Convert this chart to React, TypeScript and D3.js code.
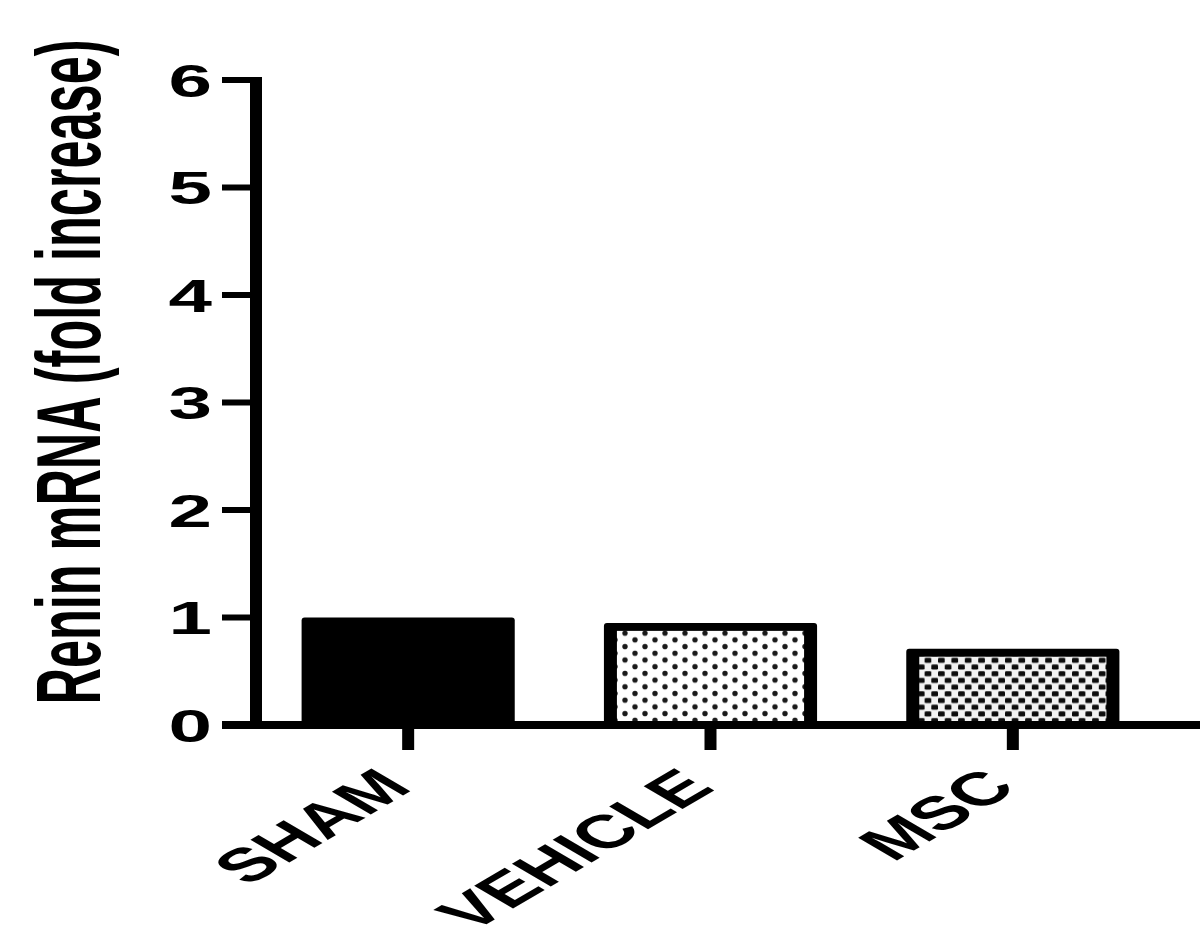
import React from "react";
import * as d3 from "d3";

// Group names, bar heights and axis ticks
const categories = ["SHAM", "VEHICLE", "MSC"];
const values = [1.0, 0.95, 0.71];
const fillKinds = ["solid", "dots", "weave"];
const yTicks = [0, 1, 2, 3, 4, 5, 6];
const yTitle = "Renin mRNA (fold increase)";

const W = 1200;
const H = 941;
// horizontal stretch applied to text glyphs (wide, heavy lettering)
const SX = 1.7;
const FONT = "'Liberation Sans', Arial, Helvetica, sans-serif";

export default function App() {
  const y = d3.scaleLinear().domain([0, 6]).range([725, 80]);
  const x = d3
    .scaleBand<string>()
    .domain(categories)
    .range([257, 1164])
    .paddingInner(0.295)
    .paddingOuter(0.1475);

  const axisX = 256;
  const y0 = y(0);
  const bw = x.bandwidth();
  const vBorder = 13; // vertical edge thickness
  const hBorder = 8; // horizontal edge thickness

  return (
    <svg
      width={W}
      height={H}
      viewBox={`0 0 ${W} ${H}`}
      style={{ position: "absolute", left: 0, top: 0, background: "#fff" }}
      fontFamily={FONT}
    >
      <defs>
        <pattern id="dots" patternUnits="userSpaceOnUse" width={20} height={13.4} x={0} y={0}>
          <rect width={20} height={13.4} fill="#fff" />
          <circle cx={5} cy={3.4} r={2.7} fill="#1a1a1a" />
          <circle cx={15} cy={10.1} r={2.7} fill="#1a1a1a" />
        </pattern>
        <pattern id="weave" patternUnits="userSpaceOnUse" width={13.4} height={13.4}>
          <rect width={13.4} height={13.4} fill="#f2f2f2" />
          <rect x={0} y={1.3} width={6.7} height={5} fill="#0d0d0d" rx={1.2} />
          <rect x={6.7} y={8} width={6.7} height={5} fill="#0d0d0d" rx={1.2} />
        </pattern>
      </defs>

      <rect width={W} height={H} fill="#fff" />

      {/* bars */}
      {categories.map((c, i) => {
        const bx = x(c)!;
        const top = y(values[i]);
        const kind = fillKinds[i];
        return (
          <g key={c}>
            <rect x={bx} y={top} width={bw} height={y0 - top} fill="#000" rx={3} />
            {kind !== "solid" && (
              <rect
                x={bx + vBorder}
                y={top + hBorder}
                width={bw - 2 * vBorder}
                height={y0 - top - hBorder}
                fill={`url(#${kind})`}
              />
            )}
          </g>
        );
      })}

      {/* y axis */}
      <rect x={axisX - 6} y={y(6) - 3} width={12} height={y0 - y(6) + 7} fill="#000" />
      {yTicks.map((t) => (
        <g key={t}>
          <rect x={222} y={y(t) - 3} width={axisX - 222} height={6} fill="#000" />
          <text
            transform={`translate(212, ${y(t)}) scale(${SX},1)`}
            textAnchor="end"
            dy="0.36em"
            fontSize={46}
            fontWeight="bold"
            fill="#000"
          >
            {t}
          </text>
        </g>
      ))}

      {/* x axis */}
      <rect x={222} y={y0 - 4} width={W - 222} height={8} fill="#000" />
      {categories.map((c) => {
        const cx = x(c)! + bw / 2;
        return (
          <g key={c}>
            <rect x={cx - 6} y={y0} width={12} height={25} fill="#000" />
            <text
              transform={`translate(${cx + 6}, 789) scale(${SX},1) rotate(-45)`}
              textAnchor="end"
              fontSize={47}
              fontWeight="bold"
              fill="#000"
            >
              {c}
            </text>
          </g>
        );
      })}

      {/* y axis title */}
      <text
        transform={`translate(100, 372) scale(${SX},1) rotate(-90)`}
        textAnchor="middle"
        fontSize={53}
        fontWeight="bold"
        textLength={665}
        lengthAdjust="spacingAndGlyphs"
        fill="#000"
      >
        {yTitle}
      </text>
    </svg>
  );
}
